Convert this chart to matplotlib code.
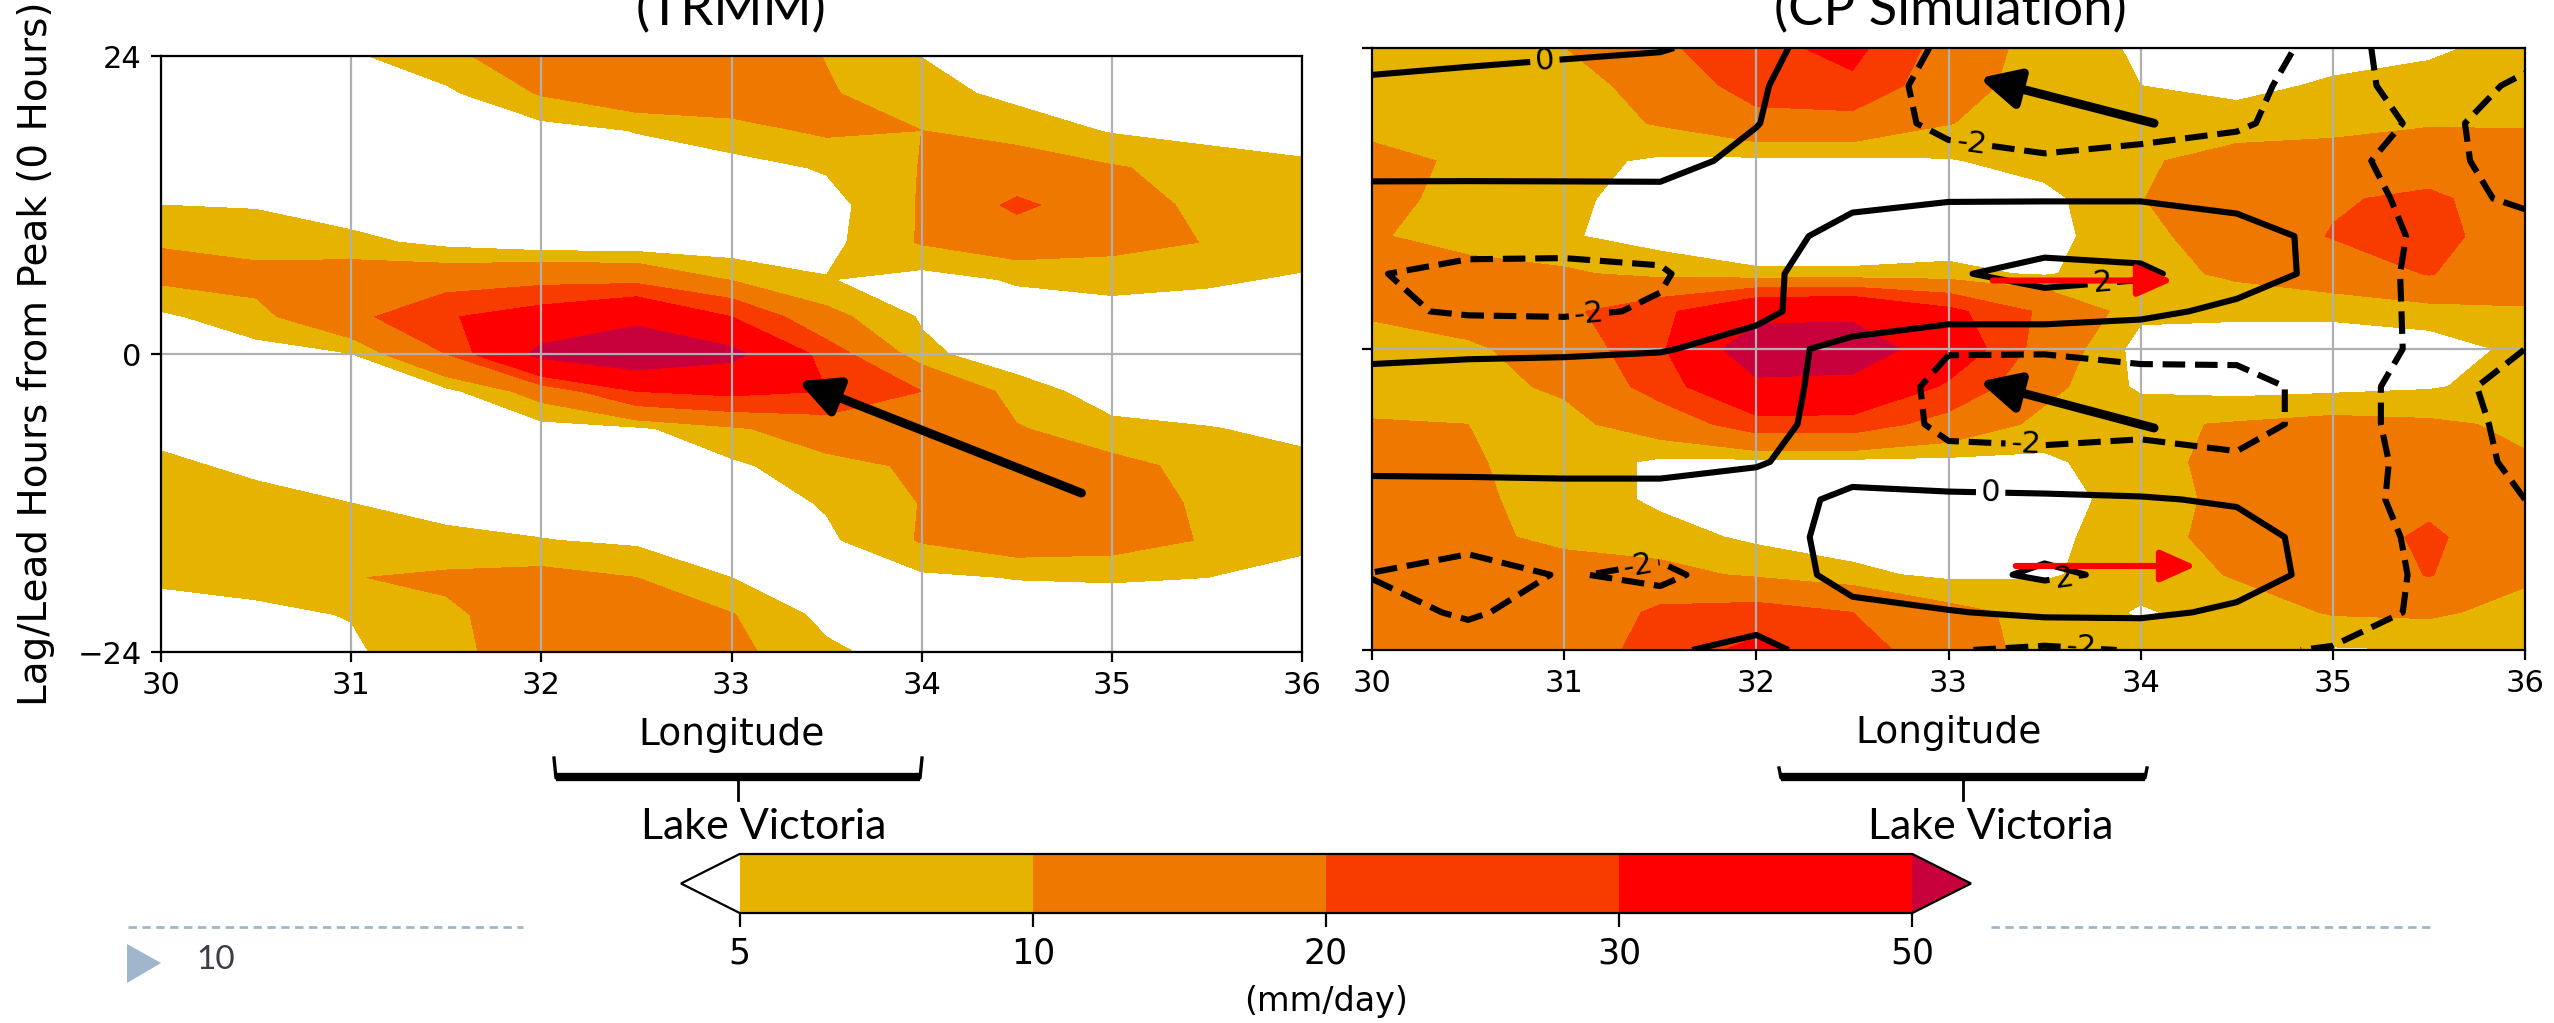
import matplotlib.pyplot as plt
from matplotlib.colors import ListedColormap, BoundaryNorm
from matplotlib.patches import Polygon

# grid of the Hovmoller panels
lon = [30, 30.5, 31, 31.5, 32, 32.5, 33, 33.5, 34, 34.5, 35, 35.5, 36]
lag = [24, 21, 18, 15, 12, 9, 6, 3, 0, -3, -6, -9, -12, -15, -18, -21, -24]

# rain rate (mm/day), rows follow lag, columns follow lon
trmm_rain = [
    [1, 2, 4.2, 8.5, 14, 19, 14, 9.8, 4.9, 2, 1, 1, 1],
    [1, 1, 2, 4, 10.5, 15, 14, 10.5, 7, 3.5, 1.5, 1, 1],
    [1, 1, 1, 1.5, 3, 5.2, 8, 11, 10, 8, 4.5, 3, 2.5],
    [1, 1, 1, 1, 1.5, 2.5, 3, 5.5, 10.2, 13, 10.5, 8, 6],
    [5, 4.6, 2, 1, 1, 1.5, 2.5, 3, 10.5, 22, 14, 8, 6],
    [9.8, 8, 6.5, 3.5, 1.5, 1, 1.5, 3.5, 10.5, 14, 12, 9.8, 7],
    [11, 12, 14, 15, 17, 17, 9.5, 5.2, 3, 5.5, 6.5, 5.6, 4.5],
    [4, 8, 17, 29, 36, 45, 30, 12, 4.5, 2.5, 3, 3, 2.5],
    [2, 3, 4.8, 20, 55, 65, 55, 25, 6, 2.5, 1.5, 1.5, 1.5],
    [1.5, 2, 3, 3.5, 13, 30, 33, 30, 20, 7, 3, 2, 1.5],
    [3.5, 2.5, 2, 2, 3, 4, 9, 14, 16, 10.5, 6, 5.2, 4],
    [6, 4, 2, 1.5, 1.5, 2, 4, 8, 11, 14, 12, 8, 6],
    [7, 6.5, 5, 3.5, 2, 1.5, 2, 5.5, 10.2, 14, 13, 9, 7],
    [8, 7.5, 6.5, 6, 5.2, 4, 2.5, 4, 10.5, 14, 13, 9.5, 6],
    [5.8, 6.5, 9.8, 11, 12, 10, 5, 3, 4, 5.2, 5.5, 5, 3.5],
    [3, 4, 5.2, 9, 13, 13, 10.3, 3.5, 2, 2, 2, 2, 2],
    [2.5, 3, 4.2, 8.5, 13, 14, 11.5, 6, 2.5, 1.5, 1.5, 1, 1],
]

cp_rain = [
    [6, 7, 9.8, 18, 27, 33, 15, 7, 4.5, 3, 3.5, 4.5, 6],
    [6.5, 6.5, 8, 12, 25, 28, 13, 7, 5, 4, 5.5, 6, 6.5],
    [8, 7, 7, 10.5, 16, 16, 10.2, 7, 6, 6.5, 8, 9.5, 9.5],
    [12, 9, 6.5, 4.2, 3.8, 3.8, 4.6, 7, 9, 13, 13, 14, 13],
    [12, 8, 6, 3, 2.5, 2.5, 3, 3.5, 9.8, 14, 19, 22, 14],
    [10.5, 8, 5.5, 3, 2.5, 2.5, 3, 3.5, 8, 14, 20.5, 23, 15],
    [12, 12, 11, 8, 5.6, 5.6, 6, 4.5, 8, 11, 14, 20.5, 13],
    [11, 13, 18, 27, 44, 46, 33, 18, 6.1, 6.1, 6.1, 7, 9.5],
    [7, 9, 13, 28, 62, 60, 40, 15, 3, 2, 2, 3, 6],
    [7, 8, 11, 24, 46, 45, 28, 12, 4, 3, 3.5, 4.5, 7],
    [10.5, 10, 8, 14, 25, 25, 16, 8, 9, 10.5, 12, 11, 9],
    [11, 10.5, 8, 4, 3.5, 3.5, 3.5, 4, 8, 12, 12.5, 12, 10.5],
    [12, 11, 8, 4, 3, 2.5, 2.5, 3, 7, 12, 13, 17, 12],
    [12, 11, 9, 7, 4, 3, 3, 3.5, 8, 12, 14, 22, 12],
    [12, 11, 12, 12, 9, 6, 4, 4.5, 7, 10.5, 12, 20.5, 11],
    [11, 11, 12, 22, 24, 20, 12, 8, 4.5, 7, 10.5, 11, 8],
    [10.5, 11, 14, 24, 33, 25, 13, 8, 7, 6, 4.5, 5, 7],
]

# overlaid line-contour field of the simulation
cp_lines = [
    [-0.5, -0.5, -0.3, -0.1, 0.6, -1.2, -2.2, -3.0, -2.2, -2.6, -1.6, -2.6, -2.4],
    [0.2, 0.5, 0.7, 0.8, 0.2, -1.3, -2.5, -3.0, -2.6, -2.3, -1.5, -2.6, -1.8],
    [0.8, 1.0, 1.0, 0.8, 0.05, -1.2, -2.4, -2.8, -2.5, -2.2, -1.2, -2.3, -1.5],
    [0.6, 0.7, 0.6, 0.5, -0.4, -1.0, -1.5, -1.8, -1.6, -1.3, -1.8, -2.3, -1.6],
    [-0.5, -0.6, -0.5, -0.4, -0.6, -0.3, -0.1, -0.1, -0.1, -0.4, -1.4, -2.4, -1.8],
    [-1.0, -1.2, -1.3, -1.3, -0.6, 0.5, 1.0, 1.2, 1.2, 0.6, -0.4, -2.5, -2.5],
    [-1.9, -2.5, -2.5, -2.2, -0.5, 1.2, 1.8, 2.6, 2.3, 1.0, -0.6, -2.6, -2.6],
    [-1.7, -2.2, -2.3, -1.8, -0.3, 0.8, 1.0, 1.0, 0.5, -0.5, -1.0, -2.4, -2.5],
    [-0.4, -0.3, -0.25, -0.1, 0.5, -0.4, -1.9, -1.9, -1.8, -1.7, -1.2, -2.3, -2.0],
    [0.6, 0.8, 0.9, 1.0, 0.8, -0.8, -2.5, -2.6, -2.3, -2.4, -1.6, -2.4, -1.6],
    [0.9, 1.0, 1.1, 1.0, 0.6, -0.8, -2.4, -2.5, -2.2, -2.5, -1.5, -2.5, -1.7],
    [0.3, 0.4, 0.4, 0.4, 0.1, -0.6, -1.5, -1.6, -1.7, -1.8, -1.3, -2.5, -1.8],
    [-0.5, -0.6, -0.5, -0.5, -0.6, 0.3, 0.4, 0.3, 0.15, -0.2, -1.4, -2.5, -2.0],
    [-1.2, -1.5, -1.4, -1.4, -1.0, 0.8, 1.2, 1.3, 1.2, 0.8, -0.8, -2.5, -2.4],
    [-2.05, -2.6, -1.9, -2.3, -1.2, 0.7, 1.4, 2.3, 1.6, 0.8, -0.6, -2.4, -2.4],
    [-1.6, -2.15, -1.5, -1.3, -0.6, -0.5, -0.1, 0.35, 0.35, -0.3, -1.2, -2.3, -2.2],
    [-1.2, -1.4, -1.0, -0.2, 0.4, -0.8, -1.9, -2.3, -1.9, -1.8, -2.1, -2.4, -2.3],
]

rain_levels = [5, 10, 20, 30, 50]
rain_colors = ['#e6b400', '#ef7800', '#f83c00', '#ff0000']
over_color = '#c8003c'
line_levels = [-2, 0, 2]
label_spots = [(30.9, 22.9), (33.12, 16.1), (31.13, 2.6), (33.8, 5.3), (33.4, -8.1),
               (33.22, -11.0), (31.37, -15.9), (33.6, -18.1), (33.69, -23.4)]

# propagation arrows (tail, head) in lon/lag
trmm_arrows = [((34.84, -11.2), (33.35, -2.2))]
cp_black_arrows = [((34.07, 18.0), (33.16, 21.6)), ((34.07, -6.3), (33.16, -2.6))]
cp_red_arrows = [((33.23, 5.46), (34.17, 5.46)), ((33.35, -17.3), (34.29, -17.3))]

W, H = 2554, 1023
fig = plt.figure(figsize=(W / 200, H / 200), dpi=200)

cmap = ListedColormap(rain_colors)
cmap.set_under('white')
cmap.set_over(over_color)
norm = BoundaryNorm(rain_levels, cmap.N)

ax1 = fig.add_axes([161 / W, 1 - 652 / H, (1302 - 161) / W, (652 - 56) / H])
ax2 = fig.add_axes([1372 / W, 1 - 650 / H, (2525 - 1372) / W, (650 - 48) / H])

cs = ax1.contourf(lon, lag, trmm_rain, levels=rain_levels, cmap=cmap, norm=norm, extend='both')
ax2.contourf(lon, lag, cp_rain, levels=rain_levels, cmap=cmap, norm=norm, extend='both')
cl = ax2.contour(lon, lag, cp_lines, levels=line_levels, colors='k', linewidths=2.2)
ax2.clabel(cl, fmt='%d', fontsize=11, inline=True, manual=label_spots)

for ax in (ax1, ax2):
    ax.set_xlim(30, 36)
    ax.set_ylim(-24, 24)
    ax.set_xticks(lon[::2])
    ax.set_yticks([-24, 0, 24])
    ax.grid(True, color='#b0b0b0', lw=0.8)
    ax.tick_params(labelsize=11)
    ax.set_xlabel('Longitude', fontsize=13.5, labelpad=6)
ax2.tick_params(labelleft=False)
ax1.set_ylabel('Lag/Lead Hours from Peak (0 Hours)', fontsize=14)
ax1.yaxis.set_label_coords(-0.093, 0.5)

black_style = '-|>,head_length=0.9,head_width=0.45'
for (tail, head) in trmm_arrows:
    ax1.annotate('', xy=head, xytext=tail,
                 arrowprops=dict(arrowstyle=black_style, lw=3.2, color='k',
                                 shrinkA=0, shrinkB=0, mutation_scale=13))
for (tail, head) in cp_black_arrows:
    ax2.annotate('', xy=head, xytext=tail,
                 arrowprops=dict(arrowstyle=black_style, lw=3.2, color='k',
                                 shrinkA=0, shrinkB=0, mutation_scale=13))
for (tail, head) in cp_red_arrows:
    ax2.annotate('', xy=head, xytext=tail,
                 arrowprops=dict(arrowstyle='-|>,head_length=0.9,head_width=0.4', lw=2.2,
                                 color='red', shrinkA=0, shrinkB=0, mutation_scale=12))

fig.text(731 / W, 1 - 25 / H, '(TRMM)', ha='center', va='baseline', fontsize=19, family='Lato')
fig.text(1950 / W, 1 - 25 / H, '(CP Simulation)', ha='center', va='baseline', fontsize=19, family='Lato')

# colorbar (the axes box includes the two end triangles)
cax = fig.add_axes([681 / W, 1 - 913 / H, (1971 - 681) / W, (913 - 854) / H])
cb = fig.colorbar(cs, cax=cax, orientation='horizontal', ticks=rain_levels, spacing='uniform')
cb.ax.tick_params(labelsize=12.5, length=5)
cb.set_label('(mm/day)', fontsize=12, labelpad=5)

# decorations in pixel space
ov = fig.add_axes([0, 0, 1, 1])
ov.set_xlim(0, W)
ov.set_ylim(H, 0)
ov.axis('off')
ov.patch.set_alpha(0)
for x0, x1, top in [(554, 922, 758), (1779, 2147, 768)]:
    ov.plot([x0, x0 + 2, x1 - 2, x1], [top, 778, 778, top], color='k', lw=1.2)
    ov.plot([x0 + 2, x1 - 2], [777, 777], color='k', lw=3.0, solid_capstyle='butt')
    xm = (x0 + x1) / 2
    ov.plot([xm, xm], [778, 800], color='k', lw=1.0)
fig.text(764 / W, 1 - 827 / H, 'Lake Victoria', ha='center', va='center', fontsize=15.5, family='Lato')
fig.text(1991 / W, 1 - 827 / H, 'Lake Victoria', ha='center', va='center', fontsize=15.5, family='Lato')

slide_blue = '#a0b6cc'
ov.plot([128, 523], [927, 927], color=slide_blue, lw=1.0, ls=(0, (3, 2)))
ov.plot([1991, 2432], [927, 927], color=slide_blue, lw=1.0, ls=(0, (3, 2)))
ov.add_patch(Polygon([[127, 944], [161, 963], [127, 983]], closed=True, color=slide_blue, lw=0))
fig.text(196 / W, 1 - 960 / H, '10', ha='left', va='center', fontsize=12, family='Lato', color='#3c3c4a')

fig.savefig('out.png', dpi=200)
